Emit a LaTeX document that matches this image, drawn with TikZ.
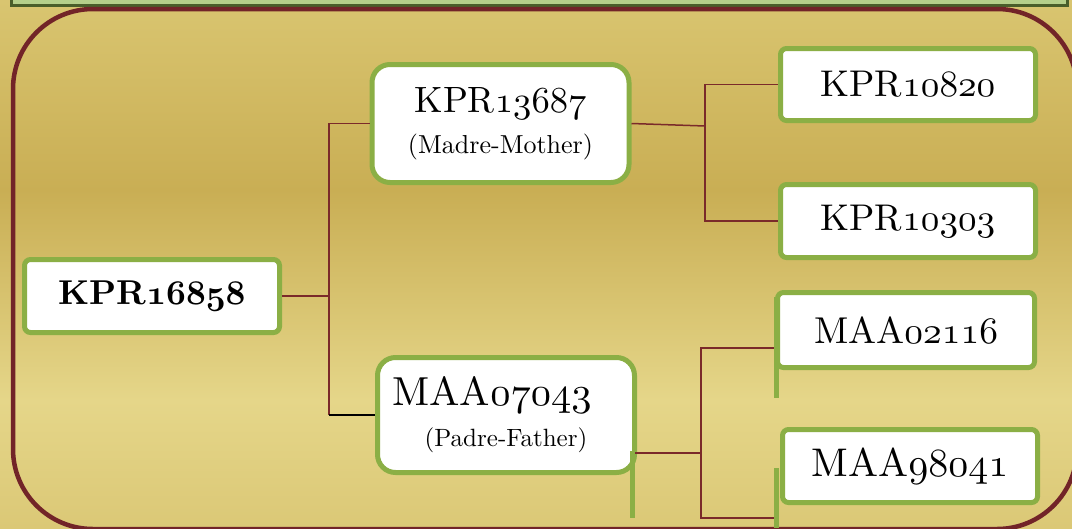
\documentclass[tikz,border=0pt]{standalone}
\usepackage{fix-cm}
\DeclareFontFamily{TU}{lmten}{}
\DeclareFontShape{TU}{lmten}{m}{n}{<-> "[lmroman10-regular]:+tlig;"}{}
\DeclareFontShape{TU}{lmten}{b}{n}{<-> "[lmroman10-bold]:+tlig;"}{}
\DeclareFontShape{TU}{lmten}{bx}{n}{<-> ssub * lmten/b/n}{}
\DeclareFontFamily{OML}{cmten}{\skewchar\font'177}
\DeclareFontShape{OML}{cmten}{m}{it}{<-> cmmi10}{}
\DeclareFontShape{OML}{cmten}{b}{it}{<-> cmmib10}{}
\definecolor{bgA}{RGB}{217,197,112}
\definecolor{bgB}{RGB}{201,174,84}
\definecolor{bgC}{RGB}{229,214,137}
\definecolor{bgD}{RGB}{219,200,118}
\definecolor{topgreen}{RGB}{181,207,138}
\definecolor{topdark}{RGB}{74,94,42}
\definecolor{boxgreen}{RGB}{139,175,69}
\definecolor{framered}{RGB}{114,36,40}
\definecolor{linkred}{RGB}{122,42,42}
\tikzset{
  boxbase/.style={draw=boxgreen, line width=5pt, fill=white, inner sep=0pt, align=center, text=black},
  leafbox/.style={boxbase, rounded corners=6pt, minimum width=255pt, minimum height=73pt},
  parentbox/.style={boxbase, rounded corners=18pt, minimum width=257pt, minimum height=117pt},
  link/.style={draw=linkred, line width=1.5pt},
  blackline/.style={draw=black, line width=2.5pt},
  greenbar/.style={draw=boxgreen, line width=5pt},
}
\newcommand{\osf}[1]{{\usefont{OML}{cmten}{m}{it}#1}}
\newcommand{\osfb}[1]{{\usefont{OML}{cmten}{b}{it}#1}}
\newcommand{\subt}[2]{{\fontsize{#1}{38}\selectfont #2}}
\newcommand{\tfont}[1]{\fontfamily{lmten}\fontsize{#1}{38}\selectfont}
\begin{document}
\begin{tikzpicture}[x=1pt,y=-1pt]
\useasboundingbox (0,0) rectangle (1072,528);
\clip (0,0) rectangle (1072,528);
% background
\shade[top color=bgA, bottom color=bgB] (0,0) rectangle (1072,190.5);
\shade[top color=bgB, bottom color=bgC] (0,190) rectangle (1072,400.5);
\shade[top color=bgC, bottom color=bgD] (0,400) rectangle (1072,528);
% top bar
\draw[draw=topdark, fill=topgreen, line width=3pt] (11,-10) rectangle (1067,5);
% frame
\draw[draw=framered, line width=4.5pt, rounded corners=80pt] (13,9) rectangle (1077,529);
% nodes
\node[leafbox, font=\tfont{34.5}\bfseries] (root) at (152,296) {KPR\osfb{16858}};
\node[parentbox, minimum height=118pt, font=\tfont{36.6}] (mother) at (500.5,123.5) {KPR\osf{13687}\\[3pt]\subt{26}{(Madre-Mother)}};
\node[parentbox, minimum height=115pt, minimum width=257pt, font=\tfont{40.5}] (father) at (506,415) {MAA\osf{07043}\hspace*{28pt}\\[3pt]\subt{25}{(Padre-Father)}};
\node[leafbox, minimum height=72pt, font=\tfont{37.2}] (g1) at (908,84.5) {KPR\osf{10820}};
\node[leafbox, font=\tfont{37.2}] (g2) at (908,221) {KPR\osf{10303}};
\node[leafbox, minimum width=257pt, minimum height=75pt, font=\tfont{37.4}] (g3) at (906,330) {MAA\osf{02116}};
\node[leafbox, font=\tfont{40}] (g4) at (910,466) {MAA\osf{98041}};
% connectors
\coordinate (j1) at (329,296);
\draw[link] (root.east) -- (j1);
\draw[link] (mother.west) -- (mother.west -| j1) -- (j1 |- father.west);
\draw[blackline] (j1 |- father.west) -- (father.west);
\coordinate (j2) at (705,126);
\draw[link] (mother.east) -- (j2);
\draw[link] (g1.west) -| (j2) |- (g2.west);
\coordinate (fo) at (634,453);
\coordinate (j3) at (701,453);
\coordinate (a3) at (775,348);
\coordinate (a4) at (776,518);
\draw[link] (fo) -- (j3);
\draw[link] (a3) -| (j3) |- (a4);
% green strokes
\coordinate (s1a) at (632,451); \coordinate (s1b) at (632,518);
\coordinate (s2a) at (776,297); \coordinate (s2b) at (776,398);
\coordinate (s3a) at (776,468); \coordinate (s3b) at (776,528);
\draw[greenbar] (s1a) -- (s1b);
\draw[greenbar] (s2a) -- (s2b);
\draw[greenbar] (s3a) -- (s3b);
\end{tikzpicture}
\end{document}
